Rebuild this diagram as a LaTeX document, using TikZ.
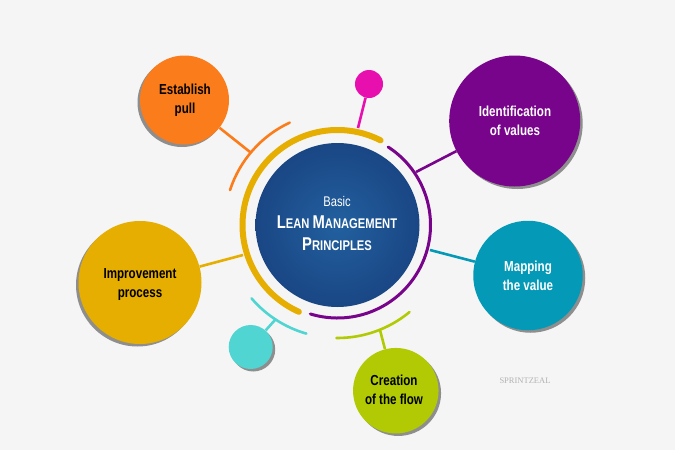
\documentclass[tikz,border=0pt]{standalone}
\usepackage{fontspec}
\setmainfont{Liberation Sans}[FakeStretch=0.8]
\newfontfamily\markfont{Liberation Serif}
\usetikzlibrary{shadows}
\definecolor{pagegray}{HTML}{F5F5F5}
\definecolor{pullcol}{HTML}{FB7C1B}
\definecolor{valuecol}{HTML}{77048A}
\definecolor{mapcol}{HTML}{0499B6}
\definecolor{flowcol}{HTML}{B1CA04}
\definecolor{improvecol}{HTML}{E5AE00}
\definecolor{dotpink}{HTML}{E70FAE}
\definecolor{dotcyan}{HTML}{50D5D2}
\definecolor{hubin}{HTML}{22609F}
\definecolor{hubout}{HTML}{1A4684}
\definecolor{shadecol}{HTML}{8E8E8E}
\newcommand{\capword}[2]{{\fontsize{18.5}{18}\selectfont #1}{\fontsize{14}{18}\selectfont #2}}
\tikzset{
	ball/.style={circle, inner sep=0pt},
	balltext/.style={align=center, text=black, font=\bfseries\fontsize{14.5}{19}\selectfont},
	shadeleft/.style={general shadow={fill=shadecol, shadow xshift=-2.5pt, shadow yshift=-2.5pt}},
	shaderight/.style={general shadow={fill=shadecol, shadow xshift=2.5pt, shadow yshift=-2.5pt}},
	spoke/.style={line width=2.6pt},
	band/.style={line width=2.6pt, line cap=round}
}
\begin{document}
\begin{tikzpicture}[x=1pt, y=-1pt]
		\fill [pagegray] (0,0) rectangle (675,450);
		\useasboundingbox (0,0) rectangle (675,450);
		\coordinate (hubc) at (337.5,225);
		
		\coordinate (pullend) at (250,152);
		\coordinate (dotaend) at (358,128);
		\coordinate (valueend) at (416,172);
		\coordinate (mapend) at (430,250);
		\coordinate (flowend) at (380,330);
		\coordinate (improveend) at (243,255);
		\coordinate (dotbend) at (275,320);
		
		% circles
		\node (pull) [ball, shadeleft, fill=pullcol, minimum size=89pt] at (184.5,100) {};
		\node (value) [ball, shaderight, fill=valuecol, minimum size=131pt] at (514.7,121) {};
		\node (map) [ball, shaderight, fill=mapcol, minimum size=109.5pt] at (528,275.5) {};
		\node (flow) [ball, shaderight, fill=flowcol, minimum size=85.5pt] at (395.8,390.7) {};
		\node (improve) [ball, shadeleft, fill=improvecol, minimum size=123pt] at (140,282.5) {};
		\node (dota) [ball, fill=dotpink, minimum size=28pt] at (369,84) {};
		\node (dotb) [ball, shaderight, fill=dotcyan, minimum size=44pt] at (250.7,347) {};
		
		\node (pulltext) [balltext] at (185,100.5) {Establish\\pull};
		\node (valuetext) [balltext, text=white] at (515,121) {Identification\\of values};
		\node (maptext) [balltext, text=white] at (528,276) {Mapping\\the value};
		\node (flowtext) [balltext] at (394,390) {Creation\\of the flow};
		\node (improvetext) [balltext] at (140,285) {Improvement\\process};
		
		\draw [spoke, pullcol] (pull) -- (pullend);
		\draw [spoke, dotpink] (dota) -- (dotaend);
		\draw [spoke, valuecol] (value) -- (valueend);
		\draw [spoke, mapcol] (map) -- (mapend);
		\draw [spoke, flowcol] (flow) -- (flowend);
		\draw [spoke, improvecol] (improve) -- (improveend);
		\draw [spoke, dotcyan] (dotb) -- (dotbend);
		
		% rings
		\draw [band, improvecol, line width=6pt] (hubc) ++(63:95pt) arc [start angle=63, end angle=246, radius=95pt];
		\draw [band, valuecol, line width=3pt] (hubc) ++(57:93pt) arc [start angle=57, end angle=-107, radius=93pt];
		\draw [band, pullcol] (hubc) ++(115:113pt) arc [start angle=115, end angle=162, radius=113pt];
		\draw [band, dotcyan] (hubc) ++(220.5:113pt) arc [start angle=220.5, end angle=254, radius=113pt];
		\draw [band, flowcol] (hubc) ++(269.5:113pt) arc [start angle=269.5, end angle=309.6, radius=113pt];
		
		\node (hub) [circle, minimum size=164pt, inner sep=0pt, inner color=hubin, outer color=hubout] at (hubc) {};
		\node (hubtext) [align=center, text=white, font=\bfseries\fontsize{14}{22}\selectfont] at (337,223)
			{\mdseries Basic\\\capword{L}{EAN} \capword{M}{ANAGEMENT}\\\capword{P}{RINCIPLES}};
		\node (mark) [text=black!30, font=\markfont\fontsize{8.5}{9}\selectfont] at (525,381) {SPRINTZEAL};
		
		\end{tikzpicture}
\end{document}
